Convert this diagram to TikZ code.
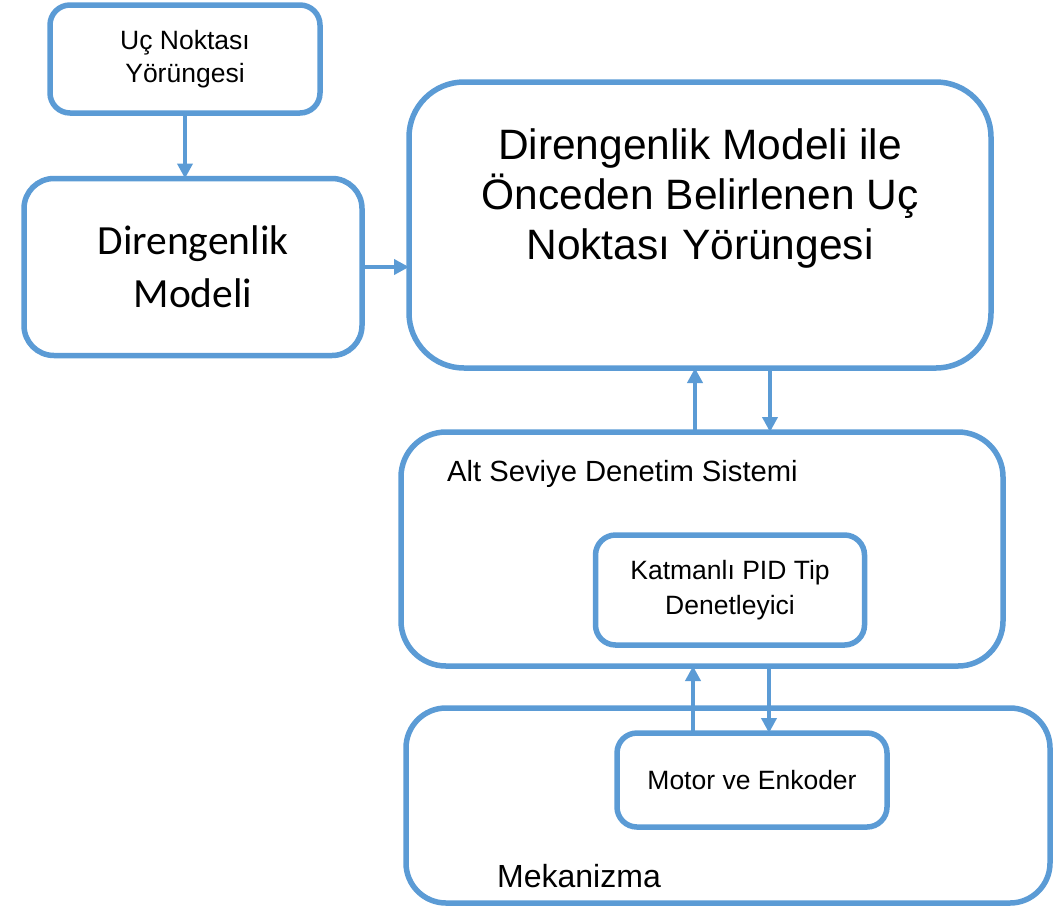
\documentclass[tikz,border=0pt]{standalone}
\usepackage{fontspec}
\setmainfont{Liberation Sans}
\newfontfamily\calfont{Carlito}
\usepackage{tikz}
\usetikzlibrary{arrows.meta, positioning, calc}
\definecolor{BoxBlue}{RGB}{91, 155, 213}

\begin{document}
\begin{tikzpicture}[x=1pt, y=-1pt,
  bx/.style={draw=BoxBlue, line width=5.5pt, rectangle, outer sep=0pt,
             align=center, text=black},
  lbl/.style={inner sep=0pt, text=black},
  ar/.style={-{Triangle[length=15pt, width=15pt]}, line width=4pt, draw=BoxBlue, color=BoxBlue}
]
  \useasboundingbox (0,0) rectangle (1056,908);

  % upper part
  \node[bx, minimum width=270, minimum height=108, rounded corners=20pt,
        font=\fontsize{26.5}{33}\selectfont] (traj) at (185,59)
        {Uç Noktası\\Yörüngesi};
  \node[bx, minimum width=338, minimum height=177, rounded corners=30pt,
        font=\calfont\fontsize{41.5}{53}\selectfont] (model) at (193,267)
        {Direngenlik\\Modeli};
  \node[bx, minimum width=582, minimum height=286, rounded corners=55pt] (plan) at (700,225) {};
  \node[lbl, anchor=north, align=center, font=\fontsize{42.5}{50}\selectfont] (plantxt)
        at (700,128) {Direngenlik Modeli ile\\Önceden Belirlenen Uç\\Noktası Yörüngesi};

  % low level control
  \node[bx, minimum width=602, minimum height=234, rounded corners=45pt] (ctrl) at (702,549) {};
  \node[lbl, anchor=base west, font=\fontsize{29.2}{34}\selectfont] (ctrltxt)
        at (447,481) {Alt Seviye Denetim Sistemi};
  \node[bx, minimum width=269, minimum height=110, rounded corners=20pt,
        font=\fontsize{26.5}{35}\selectfont] (pid) at (730,590)
        {Katmanlı PID Tip\\Denetleyici};

  % mechanism
  \node[bx, minimum width=644, minimum height=195, rounded corners=40pt] (mech) at (728,805.5) {};
  \node[lbl, anchor=base west, font=\fontsize{32}{36}\selectfont] (mechtxt)
        at (497,887) {Mekanizma};
  \node[bx, minimum width=270, minimum height=94, rounded corners=20pt,
        font=\fontsize{26.5}{32}\selectfont] (motor) at (752,780)
        {Motor ve Enkoder};

  \draw[ar] (traj.south) -- (traj.south |- model.north);
  \draw[ar] (model.east) -- (model.east -| plan.west);
  \draw[ar] ([xshift=-7pt]ctrl.north) -- ([xshift=-7pt]ctrl.north |- plan.south);
  \draw[ar] ([xshift=68pt]ctrl.north |- plan.south) -- ([xshift=68pt]ctrl.north);
  \draw[ar] ([xshift=-59pt]motor.north) -- ([xshift=-59pt]motor.north |- ctrl.south);
  \draw[ar] ([xshift=17pt]motor.north |- ctrl.south) -- ([xshift=17pt]motor.north);
\end{tikzpicture}
\end{document}
